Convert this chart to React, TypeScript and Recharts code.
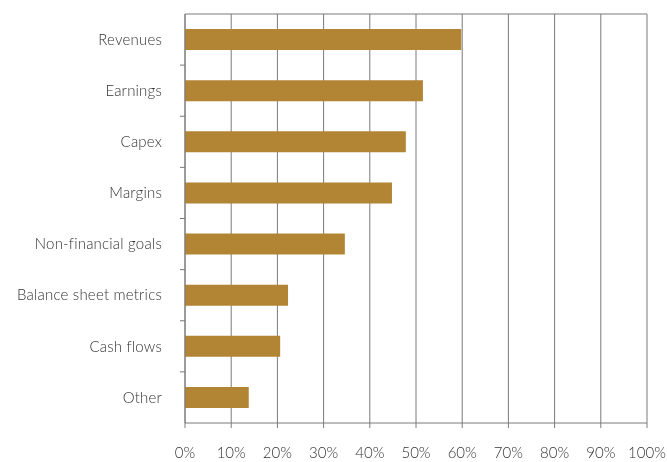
import {
  Bar,
  BarChart,
  CartesianGrid,
  XAxis,
  YAxis,
} from "recharts";

const categories = [
  "Revenues",
  "Earnings",
  "Capex",
  "Margins",
  "Non-financial goals",
  "Balance sheet metrics",
  "Cash flows",
  "Other",
];

const shares = [59.8, 51.5, 47.8, 44.8, 34.6, 22.3, 20.6, 13.8];

const xTicks = [0, 10, 20, 30, 40, 50, 60, 70, 80, 90, 100];

const data = categories.map((name, i) => ({ name, value: shares[i] }));

const W = 667;
const H = 462;
const margin = { top: 14, right: 20, left: 0, bottom: 0 };
const axisWidth = 185;
const xAxisHeight = 39;
const bandSize = (H - margin.top - margin.bottom - xAxisHeight) / categories.length;

const gridColor = "#7a7a7a";

// category label plus a small tick on the band boundary above it
const CategoryTick = (props: any) => {
  const { x, y, payload, index } = props;
  const edge = y - bandSize / 2;
  return (
    <g>
      {index > 0 && (
        <line x1={axisWidth - 5} x2={axisWidth} y1={edge} y2={edge} stroke={gridColor} />
      )}
      <text
        x={x}
        y={y}
        dy="0.35em"
        textAnchor="end"
        fill="#333"
        fontSize={15}
        fontWeight={300}
        letterSpacing={0.2}
      >
        {payload.value}
      </text>
    </g>
  );
};

const App = () => {
  return (
    <div
      style={{
        position: "fixed",
        left: 0,
        top: 0,
        width: W,
        height: H,
        fontFamily: "Lato, sans-serif",
      }}
    >
      <BarChart
        width={W}
        height={H}
        data={data}
        layout="vertical"
        margin={margin}
        style={{ overflow: "visible" }}
      >
        <CartesianGrid
          vertical={true}
          horizontal={true}
          horizontalCoordinatesGenerator={({ offset }: any) => [offset.top]}
          stroke={gridColor}
          strokeWidth={1}
        />
        <XAxis
          type="number"
          dataKey="value"
          domain={[0, 100]}
          ticks={xTicks}
          interval={0}
          height={xAxisHeight}
          tickFormatter={(v) => `${v}%`}
          tick={{ fill: "#333", fontSize: 15, fontWeight: 300 }}
          tickSize={5}
          tickMargin={19}
          axisLine={{ stroke: gridColor }}
          tickLine={{ stroke: gridColor }}
        />
        <YAxis
          type="category"
          dataKey="name"
          width={axisWidth}
          tick={<CategoryTick />}
          tickLine={false}
          tickSize={0}
          tickMargin={23}
          axisLine={{ stroke: gridColor }}
        />
        <Bar dataKey="value" fill="#b28534" barSize={21} isAnimationActive={false} />
      </BarChart>
    </div>
  );
};

export default App;
